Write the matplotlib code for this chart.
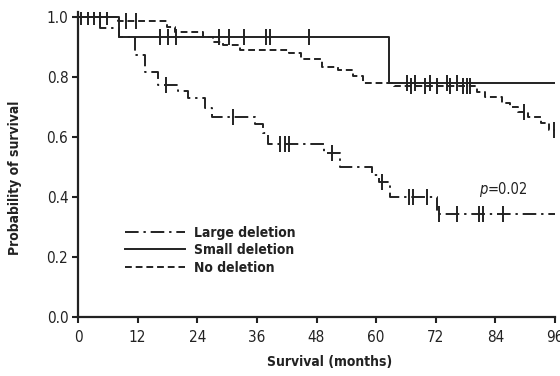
#!/usr/bin/env python3
import matplotlib
matplotlib.use("Agg")
import matplotlib.pyplot as plt
from matplotlib import font_manager

# Kaplan-Meier step data (months, survival after each drop)
LARGE_T = [0, 4.5, 8.2, 11.5, 13.5, 16.1, 20.1, 22.1, 25.5, 26.9, 35.6, 37.2, 38.2,
           49.5, 52.8, 59.2, 60.5, 62.8, 72.3, 96]
LARGE_S = [1.0, 0.963, 0.933, 0.873, 0.817, 0.773, 0.753, 0.73, 0.697, 0.667, 0.643,
           0.613, 0.577, 0.547, 0.50, 0.473, 0.45, 0.40, 0.343, 0.343]
LARGE_CENS_T = [17.7, 31.2, 40.6, 41.7, 42.4, 51.1, 61.2, 66.7, 67.4, 70.2, 72.6,
                76.3, 80.7, 81.5, 85.5]

SMALL_T = [0, 8.2, 62.6, 96]
SMALL_S = [1.0, 0.933, 0.78, 0.78]
SMALL_CENS_T = [0.6, 2.0, 3.2, 16.5, 18.1, 19.7, 28.4, 30.4, 33.4, 37.8, 38.6, 46.5,
                66.2, 67.8, 70.8, 74.2, 76.3]

NODEL_T = [0, 8.0, 17.9, 19.5, 25.2, 27.2, 29.2, 32.6, 42.5, 44.8, 49.1, 52.3, 55.3,
           57.3, 63.5, 80.3, 81.9, 85.3, 86.9, 88.5, 90.5, 93.2, 94.8, 96]
NODEL_S = [1.0, 0.987, 0.967, 0.95, 0.933, 0.917, 0.907, 0.89, 0.88, 0.86, 0.835,
           0.823, 0.803, 0.78, 0.77, 0.75, 0.733, 0.715, 0.70, 0.683, 0.667, 0.647,
           0.625, 0.625]
NODEL_CENS_T = [4.4, 5.8, 9.7, 11.6, 67.0, 69.8, 72.2, 74.8, 77.5, 78.3, 78.9, 89.7, 95.8]

X_TICKS = [0, 12, 24, 36, 48, 60, 72, 84, 96]
Y_TICKS = [0.0, 0.2, 0.4, 0.6, 0.8, 1.0]

INK = "#222222"


def surv_at(times, surv, t):
    """Survival value of a step curve at time t."""
    val = surv[0]
    for ti, si in zip(times, surv):
        if ti <= t:
            val = si
    return val


# prefer a narrow face if one is around, the reference uses a condensed sans
names = {f.name for f in font_manager.fontManager.ttflist}
if "Liberation Sans Narrow" in names:
    FONT = ["Liberation Sans Narrow", "DejaVu Sans"]
else:
    FONT = ["DejaVu Sans"]
plt.rcParams["font.family"] = FONT
plt.rcParams["font.stretch"] = "condensed"

fig = plt.figure(figsize=(5.6, 3.76), dpi=100)
ax = fig.add_axes([78 / 560, 1 - 317 / 376, (555 - 78) / 560, (317 - 12) / 376])

LW = 1.4
styles = [
    ("Large deletion", LARGE_T, LARGE_S, LARGE_CENS_T, (0, (7, 2.5, 1.2, 2.5))),
    ("Small deletion", SMALL_T, SMALL_S, SMALL_CENS_T, "-"),
    ("No deletion", NODEL_T, NODEL_S, NODEL_CENS_T, (0, (3.5, 2))),
]

for label, t, s, cens, ls in styles:
    ax.step(t, s, where="post", color=INK, lw=LW, linestyle=ls, label=label)
    cy = [surv_at(t, s, c) for c in cens]
    ax.plot(cens, cy, linestyle="none", marker="|", markersize=11,
            markeredgewidth=1.4, color=INK)

ax.set_xlim(0, 96)
ax.set_ylim(0, 1.0 * 305 / 300)
ax.set_xticks(X_TICKS)
ax.set_yticks(Y_TICKS)
ax.set_yticklabels([f"{v:.1f}" for v in Y_TICKS])
ax.tick_params(direction="out", length=4, width=1.5, labelsize=11,
               colors=INK)
ax.tick_params(axis="x", pad=5)
ax.tick_params(axis="y", pad=3)
for side in ("top", "right"):
    ax.spines[side].set_visible(False)
for side in ("left", "bottom"):
    ax.spines[side].set_linewidth(1.6)
    ax.spines[side].set_color(INK)

ax.set_xlabel("Survival (months)", fontsize=10, fontweight="bold", color=INK)
ax.set_ylabel("Probability of survival", fontsize=10, fontweight="bold", color=INK)
ax.xaxis.set_label_coords(0.528, -0.125)
ax.yaxis.set_label_coords(-0.118, 0.455)

ax.text(80.8, 0.41, "p", fontsize=10.5, style="italic", color=INK)
ax.annotate("=0.02", xy=(80.8, 0.41), xytext=(6, 0), textcoords="offset points",
            fontsize=10.5, color=INK)

leg = ax.legend(loc="upper left", bbox_to_anchor=(0.072, 0.34), frameon=False,
                handlelength=4.3, handletextpad=0.7, labelspacing=0.25,
                prop={"family": FONT, "weight": "bold", "size": 10,
                      "stretch": "condensed"})
for txt in leg.get_texts():
    txt.set_color(INK)

fig.savefig("out.png", dpi=100)
